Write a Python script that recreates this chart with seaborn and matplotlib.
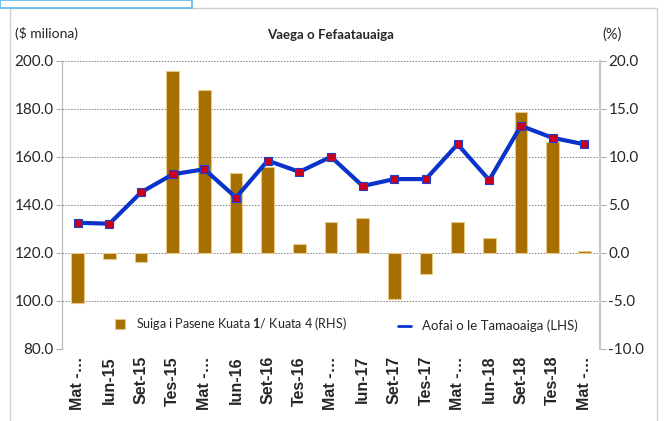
import numpy as np
import pandas as pd
import matplotlib
matplotlib.use("Agg")
import matplotlib.pyplot as plt
import seaborn as sns
from matplotlib import font_manager
from matplotlib.patches import Rectangle

quarters = ["Mat -…", "Iun-15", "Set-15", "Tes-15", "Mat -…", "Iun-16", "Set-16",
            "Tes-16", "Mat -…", "Iun-17", "Set-17", "Tes-17", "Mat -…", "Iun-18",
            "Set-18", "Tes-18", "Mat -…"]
# percent change (RHS)
pct_change = [-5.2, -0.6, -0.9, 19.0, 17.0, 8.3, 9.0, 0.9, 3.2, 3.6, -4.8, -2.2,
              3.2, 1.6, 14.7, 11.6, 0.2]
# total trade, $ million (LHS)
total = [132.6, 132.2, 145.3, 152.8, 154.9, 143.1, 158.5, 153.8, 160.1, 147.9,
         150.8, 150.8, 165.3, 150.4, 173.0, 168.0, 165.3]

names = {f.name for f in font_manager.fontManager.ttflist}
narrow = "Liberation Sans Narrow" if "Liberation Sans Narrow" in names else "Lato"

sns.set_style("white")
plt.rcParams["font.family"] = [narrow, "DejaVu Sans"]
plt.rcParams["mathtext.fontset"] = "custom"
plt.rcParams["mathtext.bf"] = narrow + ":bold"

df = pd.DataFrame({"quarter": quarters, "pos": np.arange(len(quarters)),
                   "pct": pct_change, "total": total})

fig = plt.figure(figsize=(6.64, 4.21), dpi=100)
# outer chart frame and the selection box top-left
fig.patches.append(Rectangle((10 / 664, -0.01), 647 / 664, 1 - 8 / 421 + 0.01,
                             transform=fig.transFigure, fill=False,
                             edgecolor="#d0d0d0", lw=1))
fig.patches.append(Rectangle((0, 1 - 8 / 421), 192 / 664, 8 / 421,
                             transform=fig.transFigure, fill=False,
                             edgecolor="#5bb8e8", lw=1.2))

ax = fig.add_axes([62 / 664, 1 - 349 / 421, 538 / 664, 288 / 421])
sns.barplot(data=df, x="pos", y="pct", ax=ax, color="#a66f00", saturation=1,
            width=0.4, edgecolor="#e6c98a", linewidth=0.8,
            label="Suiga i Pasene Kuata $\\mathbf{1}$/ Kuata 4 (RHS)")
ax.set_axisbelow(True)
ax.grid(axis="y", color="#808080", linestyle=(0, (1.5, 1.5)), linewidth=0.7)

ax2 = ax.twinx()
sns.lineplot(data=df, x="pos", y="total", ax=ax2, color="#0a33cc", linewidth=3,
             marker="s", markersize=5.5, markerfacecolor="#c8001e",
             markeredgecolor="#1a3fd0", markeredgewidth=0.8,
             label="Aofai o le Tamaoaiga (LHS)")

# bars read on the right axis, line on the left
ax.set_ylim(-10, 20)
ax.set_yticks(np.arange(-10, 20.1, 5))
ax.set_yticklabels([f"{v:.1f}" for v in np.arange(-10, 20.1, 5)])
ax.yaxis.tick_right()
ax2.set_ylim(80, 200)
ax2.set_yticks(np.arange(80, 201, 20))
ax2.set_yticklabels([f"{v:.1f}" for v in np.arange(80, 201, 20)])
ax2.yaxis.tick_left()

ax.set_xlim(-0.5, len(quarters) - 0.5)
ax.set_xticks(np.arange(len(quarters)))
ax.set_xticklabels(quarters, rotation=90, fontweight="bold", fontsize=11.5,
                   family=["Liberation Sans", "DejaVu Sans"])
ax.set_xticks(np.arange(len(quarters) + 1) - 0.5, minor=True)
ax.tick_params(axis="x", which="major", length=0, pad=5)
ax.tick_params(axis="x", which="minor", length=5, color="#b0b0b0", width=0.8)
ax.tick_params(axis="y", length=4, color="#b0b0b0", labelsize=11, pad=2)
ax2.tick_params(axis="y", length=4, color="#b0b0b0", labelsize=11, pad=2)
for a in (ax, ax2):
    a.set_xlabel("")
    a.set_ylabel("")
    a.spines["top"].set_visible(False)
    a.spines["bottom"].set_visible(False)
    a.spines["left"].set_color("#b8b8b8")
    a.spines["right"].set_color("#c8c8c8")
    a.spines["right"].set_linewidth(1.5)

leg1 = ax2.legend(*ax.get_legend_handles_labels(), loc="upper left",
                  bbox_to_anchor=(104 / 664, 1 - 304 / 421), bbox_transform=fig.transFigure,
                  frameon=False, fontsize=9, handlelength=0.8, handleheight=0.8,
                  handletextpad=0.9)
ax2.add_artist(leg1)
ax2.legend(*ax2.get_legend_handles_labels(), loc="upper left",
           bbox_to_anchor=(386 / 664, 1 - 308 / 421), bbox_transform=fig.transFigure,
           frameon=False, fontsize=9.5, handlelength=1.0, handletextpad=0.8)
if ax.get_legend() is not None:
    ax.get_legend().remove()
for h in ax2.get_legend().legend_handles:
    h.set_linewidth(2)
    h.set_marker("")

fig.text(15 / 664, 1 - 33 / 421, "($ miliona)", fontsize=10, va="center", ha="left")
fig.text(331 / 664, 1 - 35 / 421, "Vaega o Fefaatauaiga", fontsize=9.5,
         fontweight="bold", va="center", ha="center")
fig.text(612 / 664, 1 - 35 / 421, "(%)", fontsize=10.5, va="center", ha="center")

fig.savefig("out.png", dpi=100)
